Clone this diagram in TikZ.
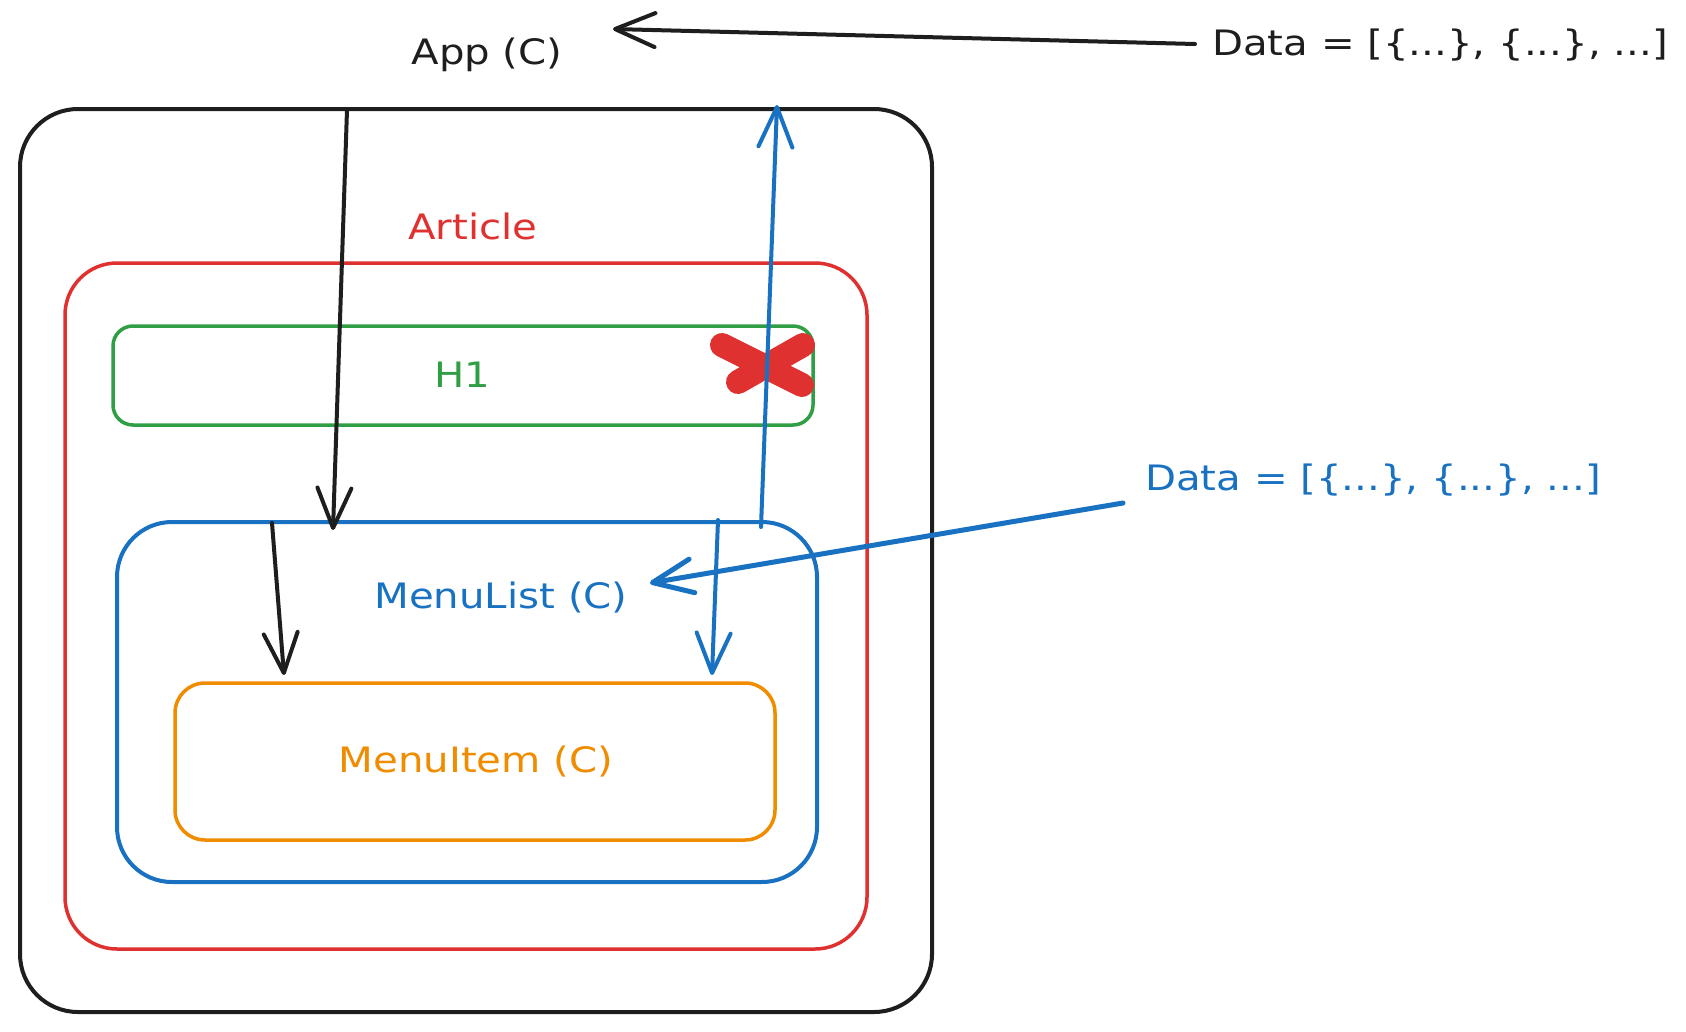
\documentclass[tikz,border=0pt]{standalone}
\usepackage{fontspec}
\setmainfont[FakeStretch=1.15]{DejaVu Sans}
\usetikzlibrary{arrows.meta}
\definecolor{xblack}{HTML}{1E1E1E}
\definecolor{xred}{HTML}{E03131}
\definecolor{xgreen}{HTML}{2F9E44}
\definecolor{xblue}{HTML}{1971C2}
\definecolor{xorange}{HTML}{F08C00}
\begin{document}
\begin{tikzpicture}[x=1pt,y=-1pt,
  box/.style={draw, inner sep=0pt, outer sep=0pt, line width=4pt},
  lbl/.style={font=\fontsize{35}{40}\selectfont, inner sep=0pt, anchor=base},
  arr/.style={line width=4pt, line cap=round, line join=round,
    -{Straight Barb[length=40pt,width=34pt,round]}},
]
\useasboundingbox (0,0) rectangle (1686,1031);
\fill[white] (0,0) rectangle (1686,1031);

% boxes
\node[box, xblack, rounded corners=58pt, minimum width=912pt, minimum height=903pt] (appbox) at (476,560.5) {};
\node[box, xred, line width=3.5pt, rounded corners=52pt, minimum width=802pt, minimum height=686pt] (articlebox) at (466,606) {};
\node[box, xgreen, line width=3.5pt, rounded corners=20pt, minimum width=700pt, minimum height=99pt] (h1box) at (463,375.5) {};
\node[box, xblue, rounded corners=55pt, minimum width=700pt, minimum height=360pt] (menulistbox) at (467,702) {};
\node[box, xorange, line width=3.5pt, rounded corners=30pt, minimum width=600pt, minimum height=157pt] (menuitembox) at (475,761.5) {};

% labels
\node[lbl, text=xblack] (app) at (487,64) {App (C)};
\node[lbl, text=xblack, anchor=base west] (datatop) at (1212,55) {Data = [\{...\}, \{...\}, ...]};
\node[lbl, text=xred] (article) at (473,239) {Article};
\node[lbl, text=xgreen] (h1) at (462,387) {H1};
\node[lbl, text=xblue] (menulist) at (501,608) {MenuList (C)};
\node[lbl, text=xorange] (menuitem) at (476,772) {MenuItem (C)};
\node[lbl, text=xblue, anchor=base west] (datamid) at (1145,490) {Data = [\{...\}, \{...\}, ...]};

% connector end points
\coordinate (dtEnd) at (1195,44);
\coordinate (appIn) at (613,29);
\coordinate (a1s) at (347,110);
\coordinate (a1e) at (333,530);
\coordinate (a2s) at (272,523);
\coordinate (a2e) at (284,675);
\coordinate (b1s) at (718,520);
\coordinate (b1e) at (712,675);
\coordinate (b2s) at (761,527);
\coordinate (b2e) at (777,105);
\coordinate (dmEnd) at (1123,503);
\coordinate (mlIn) at (650,583);

% red cross
\draw[xred, line width=24pt, line cap=round] (722,345) -- (802,385) (738,382) -- (803,345);

% arrows
\draw[arr, xblack] (dtEnd) -- (appIn);
\draw[arr, xblack] (a1s) -- (a1e);
\draw[arr, xblack] (a2s) -- (a2e);
\draw[arr, xblue] (b1s) -- (b1e);
\draw[arr, xblue] (b2s) -- (b2e);
\draw[arr, xblue, line width=5pt] (dmEnd) -- (mlIn);
\end{tikzpicture}
\end{document}
